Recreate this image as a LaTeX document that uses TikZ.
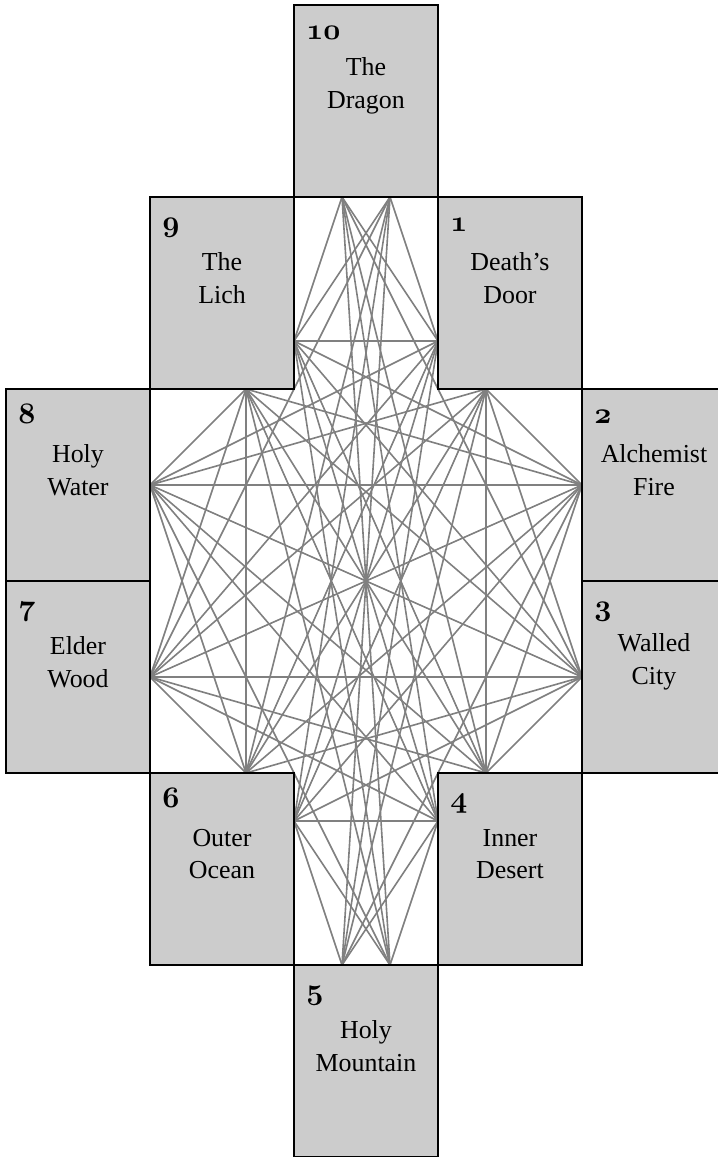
\documentclass[tikz,border=0pt]{standalone}
\usepackage{fontspec}
\setmainfont{Liberation Serif}
\definecolor{roomgray}{RGB}{204,204,204}
\definecolor{linkgray}{RGB}{128,128,128}
\newcommand\roomnum[1]{\scalebox{1.2}{\fontsize{24.88}{25}\usefont{OML}{cmm}{b}{it}#1}}

\begin{document}
\begin{tikzpicture}[x=24bp,y=24bp,
  room/.style={draw=black,line width=1.8pt,fill=roomgray,minimum width=144bp,minimum height=192bp,inner sep=0pt},
  link/.style={draw=linkgray,line width=1.6pt},
  num/.style={anchor=base west,inner sep=0pt},
  title/.style={align=center,inner sep=0pt,font=\fontsize{26}{33}\selectfont}]
\useasboundingbox (-15.25,-24) rectangle (14.6667,24.2083);
% gates on the edges of the open cross
\coordinate (p1) at (-1,16);
\coordinate (p2) at (1,16);
\coordinate (p3) at (3,10);
\coordinate (p4) at (5,8);
\coordinate (p5) at (9,4);
\coordinate (p6) at (9,-4);
\coordinate (p7) at (5,-8);
\coordinate (p8) at (3,-10);
\coordinate (p9) at (1,-16);
\coordinate (p10) at (-1,-16);
\coordinate (p11) at (-3,-10);
\coordinate (p12) at (-5,-8);
\coordinate (p13) at (-9,-4);
\coordinate (p14) at (-9,4);
\coordinate (p15) at (-5,8);
\coordinate (p16) at (-3,10);
% paths between gates
\foreach \a/\b in {1/3,1/8,1/9,1/16,2/3,2/10,2/11,2/16,
  3/10,3/11,3/16,8/9,8/10,8/11,8/16,9/11,9/16,10/11,
  4/5,4/6,4/7,4/12,4/13,4/14,5/7,5/12,5/13,5/14,5/15,
  6/7,6/12,6/13,6/14,6/15,7/13,7/14,7/15,12/13,12/14,12/15,13/15,14/15,
  1/6,1/7,2/12,2/13,3/12,3/13,3/14,16/5,16/6,16/7,
  10/4,10/5,9/14,9/15,8/13,8/14,8/15,11/4,11/5,11/6}
  \draw[link] (p\a) -- (p\b);
% the ten places
\foreach \n/\x/\y/\linea/\lineb in {10/0/20/The/Dragon, 1/6/12/Death’s/Door,
  2/12/4/Alchemist/Fire, 3/12/-4/Walled/City, 4/6/-12/Inner/Desert,
  5/0/-20/Holy/Mountain, 6/-6/-12/Outer/Ocean, 7/-12/-4/Elder/Wood,
  8/-12/4/Holy/Water, 9/-6/12/The/Lich}{
  \node[room] (r\n) at (\x,\y) {};
  \node[num] (n\n) at ([xshift=13bp,yshift=-35bp]r\n.north west) {\roomnum{\n}};
  \node[title] (t\n) at ([yshift=-82bp]r\n.north) {\linea\\\lineb};
}
\end{tikzpicture}
\end{document}
